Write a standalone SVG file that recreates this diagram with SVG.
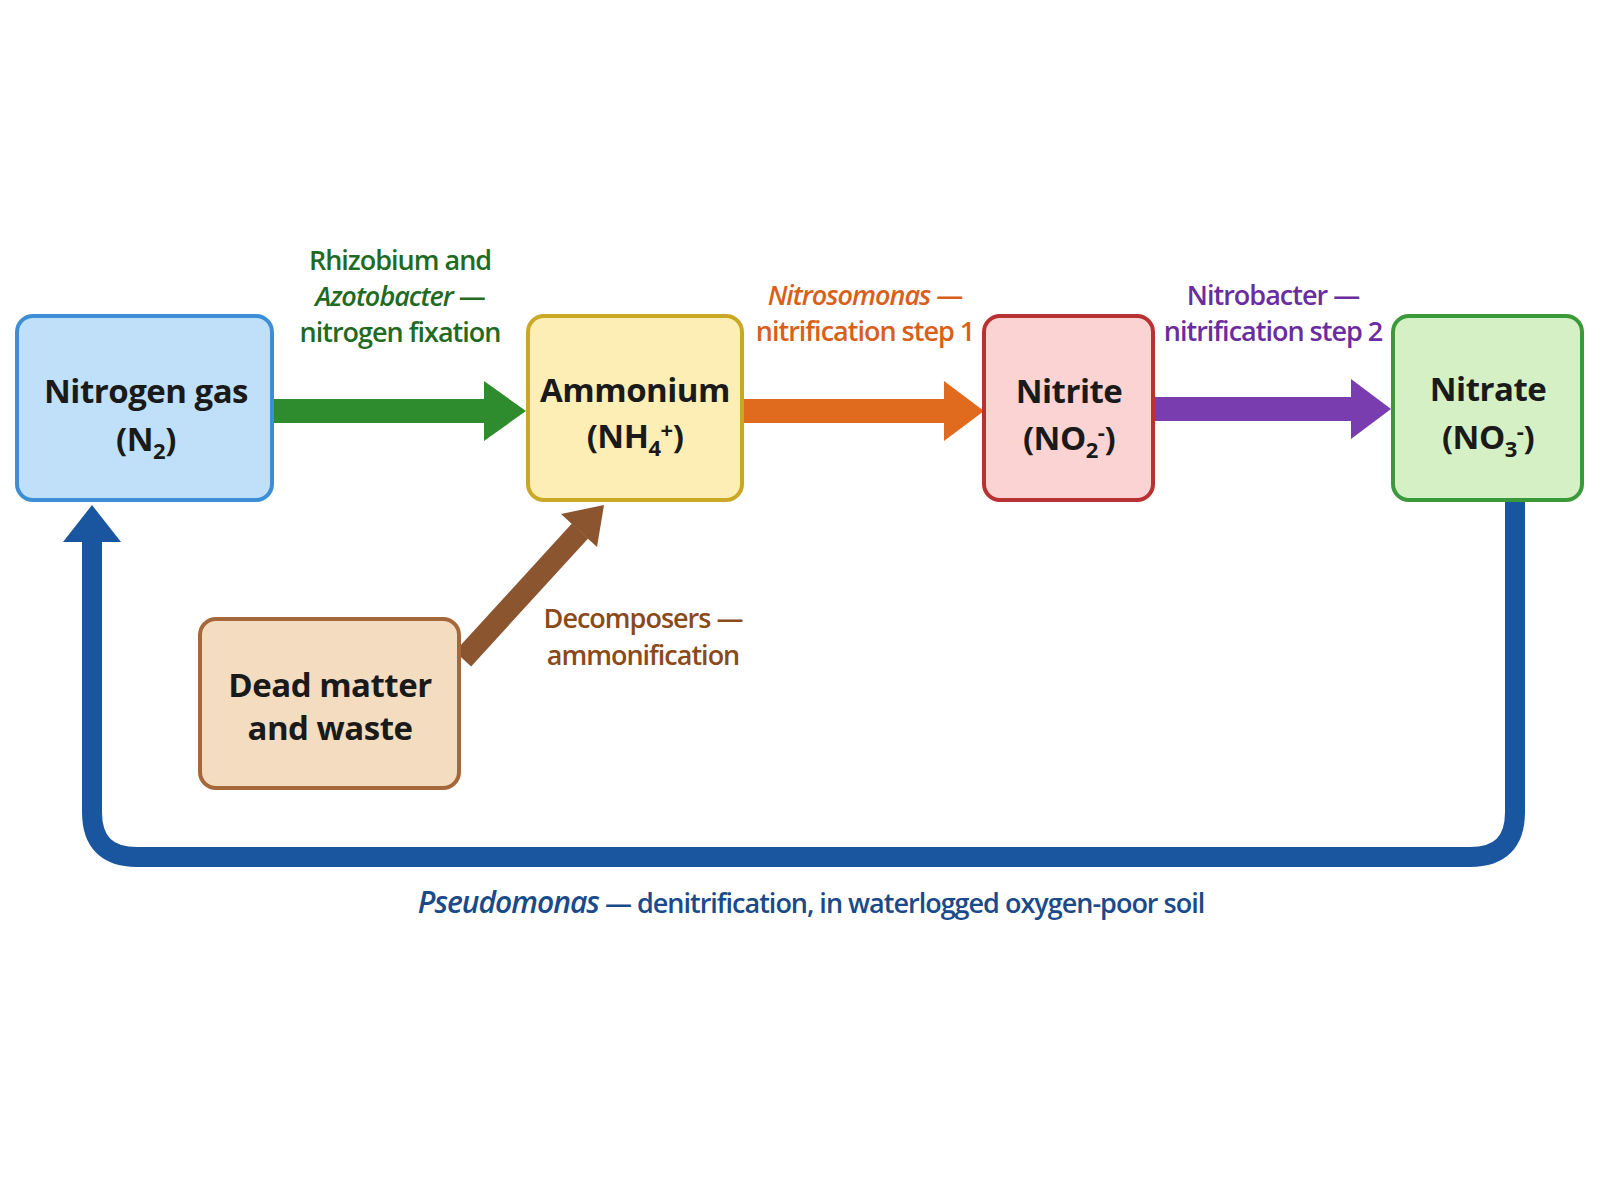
<svg xmlns="http://www.w3.org/2000/svg" width="1600" height="1200" viewBox="0 0 1600 1200">
<style>
.n{font-family:"Open Sans","Liberation Sans",sans-serif;font-weight:bold;font-size:33px;fill:#1a1a1a;text-anchor:middle;letter-spacing:-0.5px}
.l{font-family:"Open Sans","Liberation Sans",sans-serif;font-weight:600;font-size:27px;text-anchor:middle;letter-spacing:-1px}
.s{font-size:22px}
</style>
<rect width="1600" height="1200" fill="#fff"/>
<g id="connectors">
<path d="M1515 500 V812 Q1515 857 1470 857 H137 Q92 857 92 812 V535" fill="none" stroke="#1a56a0" stroke-width="20"/>
<polygon points="63,542 92,505 121,542" fill="#1a56a0"/>
<rect x="274" y="399" width="212" height="24" fill="#2e8b2e"/>
<polygon points="484,381 526,411 484,441" fill="#2e8b2e"/>
<rect x="744" y="399" width="202" height="24" fill="#e06a1e"/>
<polygon points="944,381 984,411 944,441" fill="#e06a1e"/>
<rect x="1155" y="397" width="198" height="24" fill="#7a3db0"/>
<polygon points="1351,379 1391,409 1351,439" fill="#7a3db0"/>
<line x1="463" y1="659" x2="580" y2="531" stroke="#8b5530" stroke-width="22"/>
<polygon points="561,514 604,505 597,547" fill="#8b5530"/>
</g>
<g id="nitrogen"><rect x="17" y="316" width="255" height="184" rx="16" fill="#bfe0f8" stroke="#3b8fd6" stroke-width="4"/>
<text class="n" x="146" y="403">Nitrogen gas</text><text class="n" x="146" y="451">(N<tspan class="s" dy="8">2</tspan><tspan dy="-8">)</tspan></text></g>
<g id="ammonium"><rect x="528" y="316" width="214" height="184" rx="16" fill="#fdeeb5" stroke="#c9a826" stroke-width="4"/>
<text class="n" x="635" y="402">Ammonium</text><text class="n" x="635" y="448">(NH<tspan class="s" dy="8">4</tspan><tspan class="s" dy="-18">+</tspan><tspan dy="10">)</tspan></text></g>
<g id="nitrite"><rect x="984" y="316" width="169" height="184" rx="16" fill="#fbd3d3" stroke="#b83232" stroke-width="4"/>
<text class="n" x="1069" y="403">Nitrite</text><text class="n" x="1069" y="450">(NO<tspan class="s" dy="8">2</tspan><tspan class="s" dy="-18">-</tspan><tspan dy="10">)</tspan></text></g>
<g id="nitrate"><rect x="1393" y="316" width="189" height="184" rx="16" fill="#d4f0c4" stroke="#3a9a3a" stroke-width="4"/>
<text class="n" x="1488" y="401">Nitrate</text><text class="n" x="1488" y="449">(NO<tspan class="s" dy="8">3</tspan><tspan class="s" dy="-18">-</tspan><tspan dy="10">)</tspan></text></g>
<g id="dead"><rect x="200" y="619" width="259" height="169" rx="16" fill="#f4dcc0" stroke="#a5683a" stroke-width="4"/>
<text class="n" x="330" y="697">Dead matter</text><text class="n" x="330" y="740">and waste</text></g>
<g id="labels">
<text class="l" x="400" y="270" fill="#1f6b1f">Rhizobium and</text>
<text class="l" x="400" y="306" fill="#1f6b1f"><tspan font-style="italic">Azotobacter</tspan> —</text>
<text class="l" x="400" y="342" fill="#1f6b1f">nitrogen fixation</text>
<text class="l" x="865" y="305" fill="#d9601a"><tspan font-style="italic">Nitrosomonas</tspan> —</text>
<text class="l" x="865" y="341" fill="#d9601a">nitrification step 1</text>
<text class="l" x="1273" y="305" fill="#6a2da0">Nitrobacter —</text>
<text class="l" x="1273" y="341" fill="#6a2da0">nitrification step 2</text>
<text class="l" x="643" y="628" fill="#8b4a1a">Decomposers —</text>
<text class="l" x="643" y="665" fill="#8b4a1a">ammonification</text>
<text class="l" x="811" y="913" fill="#1a4a8a"><tspan font-style="italic" font-size="30">Pseudomonas</tspan> — denitrification, in waterlogged oxygen-poor soil</text>
</g>
</svg>
